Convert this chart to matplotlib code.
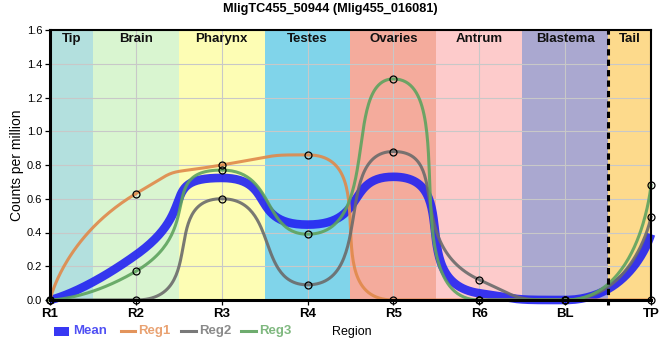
import numpy as np
import matplotlib
matplotlib.use("Agg")
import matplotlib.pyplot as plt
from matplotlib.lines import Line2D
from matplotlib.patches import Rectangle

# ---------------- data ----------------
regions = ["R1", "R2", "R3", "R4", "R5", "R6", "BL", "TP"]
reg1 = [0.00, 0.63, 0.80, 0.86, 0.00, 0.00, 0.00, 0.00]
reg2 = [0.00, 0.00, 0.60, 0.09, 0.88, 0.12, 0.00, 0.49]
reg3 = [0.00, 0.17, 0.77, 0.39, 1.31, 0.00, 0.00, 0.68]
mean = list(np.mean([reg1, reg2, reg3], axis=0))

band_names = ["Tip", "Brain", "Pharynx", "Testes", "Ovaries", "Antrum", "Blastema", "Tail"]
band_start = [0.0, 0.5, 1.5, 2.5, 3.5, 4.5, 5.5, 6.5]
band_end = [0.5, 1.5, 2.5, 3.5, 4.5, 5.5, 6.5, 7.0]
band_colors = ["#b3e0de", "#d9f5d0", "#fdfdb4", "#80d4ea",
               "#f4ab9c", "#fdcbcb", "#aaa8d0", "#fdda8c"]
tail_boundary = 6.5

y_ticks = [0.0, 0.2, 0.4, 0.6, 0.8, 1.0, 1.2, 1.4, 1.6]

series_names = ["Mean", "Reg1", "Reg2", "Reg3"]
series_colors = ["#2222f2", "#e0894a", "#6b6b6b", "#5ea35e"]
label_colors = ["#5050f4", "#e9a272", "#8a8a8a", "#7fb87f"]

FONT = ["Liberation Sans", "DejaVu Sans"]
plt.rcParams["font.family"] = FONT
plt.rcParams["lines.scale_dashes"] = False

SMOOTH = 0.7


def smooth_path(ax, xv, yv, smooth=SMOOTH, n=60):
    """Bezier smoothing with extreme-preserving control point constraints,
    computed in display (pixel) space."""
    pts = ax.transData.transform(np.column_stack([xv, yv]))
    px, py = pts[:, 0], pts[:, 1]
    N = len(px)
    cp0 = (px[0], py[0])
    out = []
    t = np.linspace(0, 1, n)[:, None]
    for idx in range(1, N):
        x, y = px[idx], py[idx]
        pX, pY = px[idx - 1], py[idx - 1]
        if idx + 1 >= N:
            cp1 = (x, y)
            ncp0 = (x, y)
        else:
            nX, nY = px[idx + 1], py[idx + 1]
            vx, vy = nX - pX, nY - pY
            lp = np.hypot(x - pX, y - pY)
            ln = np.hypot(nX - x, nY - y)
            ratio = ln / (ln + lp)
            ncx = x + vx * smooth * ratio
            ncy = y + vy * smooth * ratio
            ncx = max(min(ncx, max(nX, x)), min(nX, x))
            ncy = max(min(ncy, max(nY, y)), min(nY, y))
            vx, vy = ncx - x, ncy - y
            c1x = x - vx * lp / ln
            c1y = y - vy * lp / ln
            c1x = max(min(c1x, max(pX, x)), min(pX, x))
            c1y = max(min(c1y, max(pY, y)), min(pY, y))
            vx, vy = x - c1x, y - c1y
            ncx = x + vx * ln / lp
            ncy = y + vy * ln / lp
            cp1 = (c1x, c1y)
            ncp0 = (ncx, ncy)
        P0 = np.array([pX, pY])
        P1 = np.array(cp0)
        P2 = np.array(cp1)
        P3 = np.array([x, y])
        seg = ((1 - t) ** 3) * P0 + 3 * ((1 - t) ** 2) * t * P1 + 3 * (1 - t) * t ** 2 * P2 + t ** 3 * P3
        out.append(seg if idx == 1 else seg[1:])
        cp0 = ncp0
    disp = np.vstack(out)
    data = ax.transData.inverted().transform(disp)
    return data[:, 0], data[:, 1]


W, H = 660, 360
fig = plt.figure(figsize=(W / 100, H / 100), dpi=100)
ax = fig.add_axes([50 / W, 60 / H, 601 / W, 270 / H])

xpos = np.arange(len(regions))
ax.set_xlim(0, len(regions) - 1)
ax.set_ylim(0, 1.6)

# background bands
for s, e, c, name in zip(band_start, band_end, band_colors, band_names):
    ax.axvspan(s, e, color=c, lw=0, zorder=0)
    ax.text((s + e) / 2, 1.547, name, ha="center", va="center",
            fontsize=9.5, fontweight="bold", color="#111111", zorder=1)

ax.set_xticks(xpos)
ax.set_xticklabels(regions, fontsize=9.5, fontweight="bold")
ax.set_yticks(y_ticks)
ax.set_yticklabels([f"{v:.1f}" for v in y_ticks], fontsize=8)
ax.grid(True, color="#c8c8c8", lw=0.8)
ax.set_axisbelow(True)
for gl in ax.get_xgridlines() + ax.get_ygridlines():
    gl.set_zorder(0.5)
ax.tick_params(axis="both", direction="out", length=3.5, width=0.9, color="black", pad=2)

for side in ["left", "bottom"]:
    ax.spines[side].set_linewidth(2.2)
for side in ["top", "right"]:
    ax.spines[side].set_linewidth(1.5)
for sp in ax.spines.values():
    sp.set_zorder(5)

# dashed tail boundary
ax.axvline(tail_boundary, ymin=-0.02, ymax=1, color="black", lw=2.2,
           dashes=(4.5, 3), clip_on=False, zorder=4)

# series
all_series = [mean, reg1, reg2, reg3]
for k, (vals, col) in enumerate(zip(all_series, series_colors)):
    cx, cy = smooth_path(ax, xpos, vals)
    if k == 0:
        ax.plot(cx, cy, color=col, lw=6.2, alpha=0.9, solid_capstyle="butt",
                clip_on=False, zorder=2)
    else:
        ax.plot(cx, cy, color=col, lw=2.2, alpha=0.9, clip_on=False, zorder=3)
for vals in all_series[1:]:
    ax.plot(xpos, vals, ls="none", marker="o", ms=5, mfc="none", mec="black",
            mew=0.9, clip_on=False, zorder=6)

# title & axis labels
fig.text(0.5, 1 - 9 / H, "MligTC455_50944 (Mlig455_016081)", ha="center", va="center",
         fontsize=9.2, fontweight="bold")
fig.text(17 / W, 1 - 165 / H, "Counts per million", rotation=90, ha="center",
         va="center", fontsize=10)
fig.text(352 / W, 1 - 332 / H, "Region", ha="center", va="center", fontsize=9)

# legend (manual)
ly = 1 - 331 / H
fig.add_artist(Rectangle((54 / W, ly - 4.5 / H), 15 / W, 9 / H,
                         transform=fig.transFigure, color=series_colors[0], alpha=0.9, lw=0))
fig.text(73 / W, ly, series_names[0], ha="left", va="center", fontsize=9.5,
         fontweight="bold", color=label_colors[0])
line_x = [(120.5, 134.5, 138.5), (181, 195.5, 199), (241, 256, 259)]
for (x0, x1, tx), name, col, lc in zip(line_x, series_names[1:], series_colors[1:], label_colors[1:]):
    fig.add_artist(Line2D([x0 / W, x1 / W], [ly, ly], transform=fig.transFigure,
                          color=col, lw=2.2, alpha=0.9))
    fig.text(tx / W, ly, name, ha="left", va="center", fontsize=9.5,
             fontweight="bold", color=lc)

fig.savefig("out.png", dpi=100)
